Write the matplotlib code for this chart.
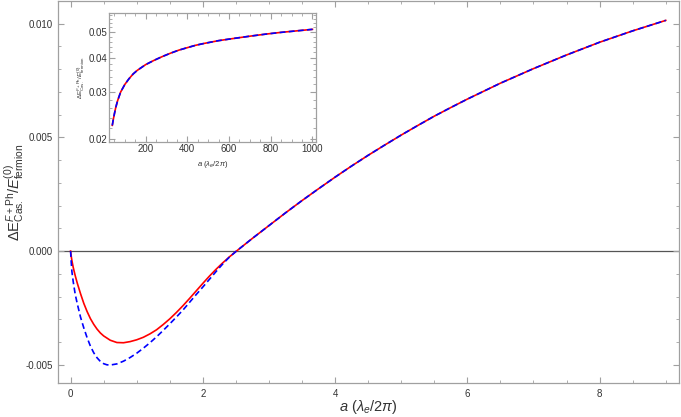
import matplotlib
matplotlib.use("Agg")
import matplotlib.pyplot as plt
from matplotlib.ticker import MultipleLocator, FixedLocator, NullFormatter, FormatStrFormatter

plt.rcParams['font.family'] = ['Liberation Sans', 'DejaVu Sans']
plt.rcParams['mathtext.fontset'] = 'custom'
plt.rcParams['mathtext.rm'] = 'Liberation Sans'
plt.rcParams['mathtext.it'] = 'Liberation Sans:italic'

# main panel
a_red = [0.0, 0.01, 0.02, 0.04, 0.07, 0.1, 0.15, 0.2, 0.25, 0.3, 0.35, 0.4, 0.45, 0.5,
         0.6, 0.7, 0.8, 0.9, 1.0, 1.1, 1.2, 1.3, 1.4, 1.5, 1.6, 1.7, 1.8, 1.9, 2.0,
         2.1, 2.2, 2.3, 2.4, 2.5, 2.75, 3.0, 3.25, 3.5, 3.75, 4.0, 4.25, 4.5, 4.75,
         5.0, 5.25, 5.5, 5.75, 6.0, 6.5, 7.0, 7.5, 8.0, 8.5, 9.0]
e_red = [0.0, -0.00023, -0.00042, -0.00072, -0.00108, -0.0014, -0.00187, -0.0023,
         -0.00266, -0.00297, -0.00322, -0.00343, -0.0036, -0.00373, -0.00392, -0.00402,
         -0.00403, -0.00398, -0.0039, -0.00379, -0.00364, -0.00346, -0.00323, -0.00298,
         -0.0027, -0.0024, -0.00208, -0.00175, -0.00142, -0.0011, -0.0008, -0.00052,
         -0.00026, -0.00002, 0.00056, 0.00112, 0.00168, 0.00222, 0.00274, 0.00325,
         0.00374, 0.00421, 0.00466, 0.0051, 0.00552, 0.00593, 0.00631, 0.00668, 0.00738,
         0.00802, 0.00862, 0.00918, 0.00968, 0.01014]

a_blue = [0.0, 0.01, 0.02, 0.04, 0.07, 0.1, 0.15, 0.2, 0.25, 0.3, 0.35, 0.4, 0.45, 0.5,
          0.55, 0.6, 0.7, 0.8, 0.9, 1.0, 1.1, 1.2, 1.3, 1.4, 1.5, 1.6, 1.7, 1.8, 1.9,
          2.0, 2.1, 2.2, 2.3, 2.4, 2.5, 2.75, 3.0, 3.25, 3.5, 3.75, 4.0, 4.25, 4.5,
          4.75, 5.0, 5.25, 5.5, 5.75, 6.0, 6.5, 7.0, 7.5, 8.0, 8.5, 9.0]
e_blue = [0.0, -0.0005, -0.0009, -0.00135, -0.0019, -0.0023, -0.0029, -0.00338,
          -0.00381, -0.00418, -0.00447, -0.00469, -0.00485, -0.00495, -0.005, -0.00501,
          -0.00496, -0.00484, -0.00468, -0.00449, -0.00427, -0.00403, -0.00377,
          -0.00349, -0.0032, -0.0029, -0.00259, -0.00225, -0.00191, -0.00158, -0.00124,
          -0.0009, -0.00057, -0.00027, -0.00002, 0.00056, 0.00112, 0.00168, 0.00222,
          0.00274, 0.00325, 0.00374, 0.00421, 0.00466, 0.0051, 0.00552, 0.00593,
          0.00631, 0.00668, 0.00738, 0.00802, 0.00862, 0.00918, 0.00968, 0.01014]

# inset, large a
a_inset = [40, 45, 50, 56, 65, 80, 100, 120, 140, 160, 200, 240, 280, 320, 360, 400,
           440, 480, 550, 616, 700, 780, 850, 1000]
e_inset_red = [0.0225, 0.0237, 0.0248, 0.0261, 0.0277, 0.0299, 0.0319, 0.0335, 0.0349,
               0.0360, 0.0378, 0.0392, 0.0405, 0.0417, 0.0428, 0.0437, 0.0446, 0.0453,
               0.0464, 0.0472, 0.0482, 0.0491, 0.0498, 0.0511]
e_inset_blue = [0.0225, 0.0237, 0.0248, 0.0261, 0.0277, 0.0299, 0.0319, 0.0335, 0.0349,
                0.0360, 0.0378, 0.0392, 0.0405, 0.0417, 0.0428, 0.0437, 0.0446, 0.0453,
                0.0464, 0.0472, 0.0482, 0.0491, 0.0498, 0.0511]

ylab = r'$\Delta\mathrm{E}^{F+\mathrm{Ph}}_{\mathrm{Cas.}}/E^{(0)}_{\mathrm{fermion}}$'
xlab = r'$a\ (\lambda_e/2\pi)$'
frame = '#a0a0a0'
txt = '#333333'


def style(ax, size=7, pad=3):
    for s in ax.spines.values():
        s.set_color(frame)
        s.set_linewidth(0.9)
    ax.tick_params(which='both', direction='in', top=True, right=True,
                   color=frame, labelcolor=txt, labelsize=size, pad=pad)
    ax.tick_params(which='major', length=4, width=0.8)
    ax.tick_params(which='minor', length=2.3, width=0.6)


fig = plt.figure(figsize=(6.81, 4.17), dpi=100)
ax = fig.add_axes([0.0852, 0.0815, 0.9118, 0.9165])
ax.axhline(0, color='#555555', lw=0.9, zorder=1)
ax.plot(a_red, e_red, color='red', lw=1.2, zorder=2)
ax.plot(a_blue, e_blue, color='blue', lw=1.2, ls=(0, (3.5, 2)), zorder=3)
ax.set_xlim(-0.19, 9.2)
ax.set_ylim(-0.0058, 0.0110)
ax.xaxis.set_major_locator(MultipleLocator(2))
ax.xaxis.set_minor_locator(MultipleLocator(0.5))
ax.yaxis.set_major_locator(FixedLocator([-0.005, 0.0, 0.005, 0.010]))
ax.yaxis.set_minor_locator(MultipleLocator(0.001))
ax.yaxis.set_major_formatter(FormatStrFormatter('%.3f'))
style(ax, 7, 4)
ax.set_xlabel(xlab, fontsize=10.5, color=txt)
ax.set_ylabel(ylab, fontsize=10.5, color=txt)
ax.yaxis.set_label_coords(-0.052, 0.5)
ax.xaxis.set_label_coords(0.5, -0.038)

ins = fig.add_axes([0.160, 0.660, 0.304, 0.3095])
ins.plot(a_inset, e_inset_red, color='red', lw=1.2)
ins.plot(a_inset, e_inset_blue, color='blue', lw=1.2, ls=(0, (3.5, 2)))
ins.set_yscale('log')
ins.set_xlim(24, 1017)
ins.set_ylim(0.01955, 0.0589)
ins.xaxis.set_major_locator(MultipleLocator(200))
ins.xaxis.set_minor_locator(MultipleLocator(50))
ins.yaxis.set_major_locator(FixedLocator([0.02, 0.03, 0.04, 0.05]))
ins.yaxis.set_minor_locator(FixedLocator([0.02 + 0.002 * i for i in range(20)]))
ins.yaxis.set_major_formatter(FormatStrFormatter('%.2f'))
ins.yaxis.set_minor_formatter(NullFormatter())
style(ins, 7, 1.5)
ins.set_xlabel(xlab, fontsize=5.5, color=txt)
ins.set_ylabel(ylab, fontsize=4.5, color=txt)
ins.xaxis.set_label_coords(0.5, -0.13)
ins.yaxis.set_label_coords(-0.105, 0.5)

fig.savefig('out.png', dpi=100)
